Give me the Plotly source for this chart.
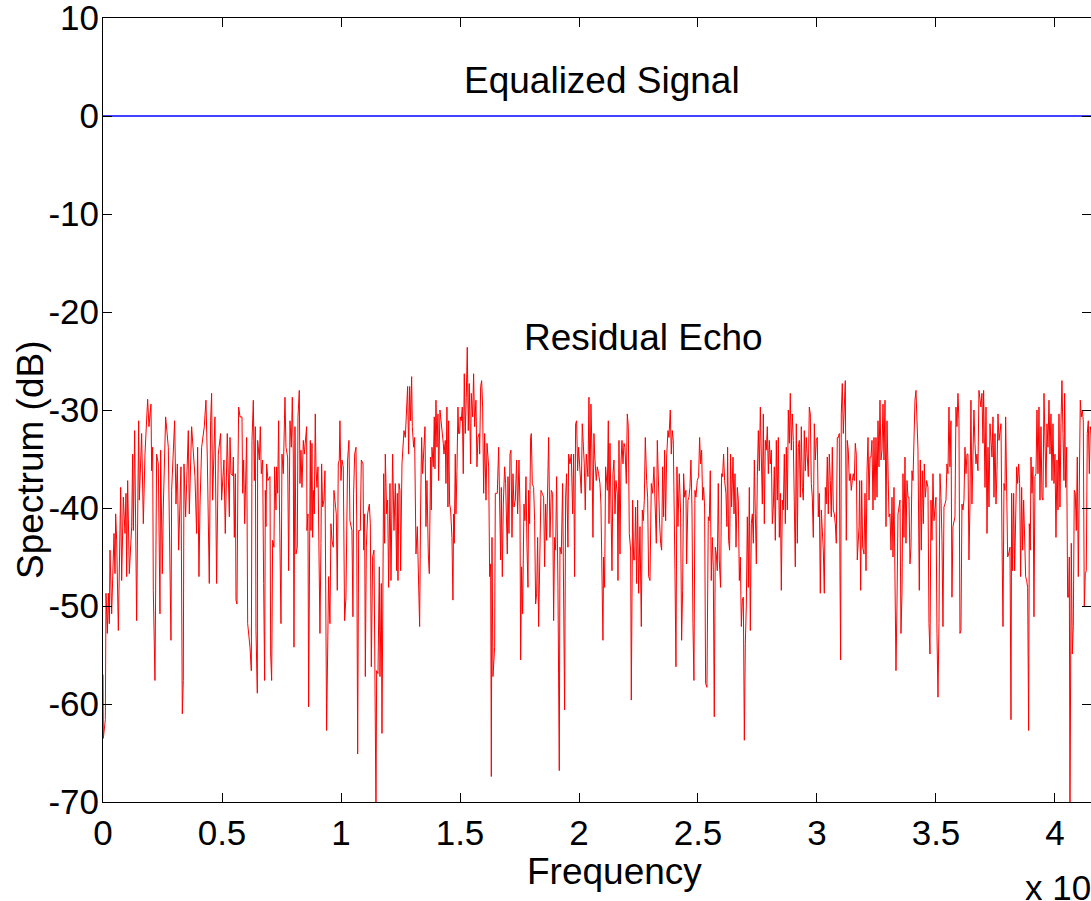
import plotly.graph_objects as go

# Frequencies in units of 1e8 Hz, spectrum in dB
eq_freq = [0.0, 4.16]
eq_db = [0.0, 0.0]

echo_freq_1 = [0.000, 0.0014, 0.0098, 0.0126, 0.0182, 0.0224, 0.0266, 0.0294, 0.0364, 0.0406, 0.0462, 0.0504, 0.0532, 0.0574, 0.0644, 0.0742, 0.0784, 0.0854, 0.0924, 0.0966, 0.0994, 0.1036, 0.1106, 0.1204, 0.1246, 0.1274, 0.1330, 0.1414, 0.1442, 0.1498, 0.1526, 0.1624, 0.1694, 0.1764, 0.1876, 0.1932, 0.2016, 0.2044, 0.2086, 0.2114, 0.2184, 0.2254, 0.2324, 0.2394, 0.2422, 0.2492, 0.2534, 0.2632, 0.2744, 0.2786, 0.2856, 0.2884, 0.3010, 0.3066, 0.3122, 0.3178, 0.3276, 0.3332, 0.3374, 0.3402, 0.3472, 0.3514, 0.3584, 0.3626, 0.3724, 0.3864, 0.3934, 0.3976, 0.4032, 0.4074, 0.4144, 0.4256, 0.4326, 0.4382, 0.4466, 0.4522, 0.4564, 0.4606, 0.4704, 0.4774, 0.4844, 0.4942, 0.4984, 0.5082, 0.5138, 0.5222]
echo_db_1 = [-57.0, -63.5, -61.6, -48.7, -52.8, -48.7, -51.8, -44.3, -50.8, -46.7, -42.6, -46.7, -40.6, -43.3, -52.5, -37.9, -47.4, -38.9, -42.6, -38.5, -47.0, -37.2, -46.7, -41.9, -34.5, -42.3, -32.1, -51.5, -41.9, -31.1, -39.2, -32.4, -41.6, -34.5, -28.9, -31.7, -29.4, -36.2, -33.8, -48.4, -57.6, -34.5, -35.5, -50.8, -34.1, -46.7, -39.9, -30.7, -33.8, -43.6, -53.5, -38.2, -31.1, -39.6, -35.5, -44.3, -35.8, -61.0, -57.6, -35.5, -40.9, -37.5, -32.1, -40.6, -31.7, -36.8, -42.6, -33.8, -47.0, -39.9, -33.8, -31.7, -29.0, -34.8, -47.7, -31.1, -28.3, -39.2, -30.7, -47.7, -34.5, -32.4, -39.2, -35.1, -42.6, -32.4]

echo_freq_2 = [0.5308, 0.5336, 0.5378, 0.5448, 0.5476, 0.5518, 0.5560, 0.5588, 0.5630, 0.5672, 0.5700, 0.5756, 0.5840, 0.5868, 0.5910, 0.5952, 0.5980, 0.6036, 0.6078, 0.6176, 0.6232, 0.6260, 0.6316, 0.6358, 0.6400, 0.6428, 0.6484, 0.6498, 0.6568, 0.6610, 0.6652, 0.6708, 0.6750, 0.6792, 0.6820, 0.6848, 0.6876, 0.6932, 0.7016, 0.7044, 0.7086, 0.7128, 0.7184, 0.7212, 0.7268, 0.7296, 0.7338, 0.7380, 0.7408, 0.7478, 0.7520, 0.7576, 0.7646, 0.7688, 0.7758, 0.7800, 0.7856, 0.7912, 0.7954, 0.7996, 0.8024, 0.8066, 0.8108, 0.8164, 0.8192, 0.8248, 0.8276, 0.8318, 0.8360, 0.8416, 0.8458, 0.8556, 0.8570, 0.8612, 0.8640, 0.8668, 0.8710, 0.8738, 0.8780, 0.8808, 0.8836, 0.8878, 0.8920, 0.8948, 0.8990, 0.9032, 0.9088, 0.9116, 0.9158, 0.9186, 0.9228, 0.9284, 0.9326, 0.9368, 0.9396, 0.9438, 0.9480, 0.9536, 0.9578, 0.9620, 0.9676, 0.9704, 0.9746, 0.9802, 0.9844, 0.9886, 0.9928, 0.9956, 0.9998, 1.0040, 1.0096, 1.0152, 1.0208, 1.0278, 1.0334, 1.0376, 1.0460, 1.0502, 1.0530]
echo_db_2 = [-40.9, -32.8, -36.5, -36.7, -34.8, -43.0, -36.5, -49.4, -49.8, -35.8, -29.7, -30.7, -30.7, -38.5, -35.1, -41.6, -38.5, -32.8, -51.8, -54.2, -56.6, -33.1, -29.0, -37.2, -31.7, -52.5, -58.9, -33.1, -35.1, -31.7, -36.5, -35.1, -47.7, -57.6, -38.2, -41.9, -35.5, -37.2, -36.8, -54.9, -57.6, -43.3, -44.0, -35.8, -40.2, -35.8, -38.5, -31.1, -38.5, -51.8, -34.5, -36.5, -28.7, -33.8, -34.8, -46.4, -31.1, -33.8, -28.7, -34.5, -54.2, -31.7, -44.7, -44.0, -30.7, -28.0, -37.5, -34.1, -37.9, -33.1, -34.5, -31.7, -42.3, -40.6, -60.3, -40.6, -33.1, -42.3, -33.4, -43.0, -38.2, -40.6, -30.4, -35.8, -37.9, -35.8, -44.7, -52.8, -43.6, -35.5, -39.9, -39.2, -36.2, -47.7, -62.7, -54.9, -47.0, -51.8, -41.6, -43.3, -44.0, -38.2, -39.6, -40.6, -48.4, -35.5, -35.1, -31.1, -37.2, -35.1, -35.8, -51.5, -49.1, -35.1, -33.1, -41.3, -42.3, -51.1, -38.5]

echo_freq_3 = [1.0574, 1.0630, 1.0658, 1.0700, 1.0742, 1.0812, 1.0854, 1.0924, 1.0952, 1.0994, 1.1022, 1.1064, 1.1120, 1.1190, 1.1232, 1.1274, 1.1330, 1.1386, 1.1414, 1.1470, 1.1498, 1.1554, 1.1610, 1.1638, 1.1666, 1.1694, 1.1722, 1.1764, 1.1792, 1.1834, 1.1862, 1.1918, 1.1960, 1.2002, 1.2058, 1.2100, 1.2142, 1.2170, 1.2226, 1.2282, 1.2338, 1.2366, 1.2394, 1.2436, 1.2478, 1.2506, 1.2562, 1.2618, 1.2646, 1.2702, 1.2758, 1.2800, 1.2842, 1.2884, 1.2926, 1.2968, 1.2996, 1.3052, 1.3094, 1.3150, 1.3206, 1.3262, 1.3304, 1.3346, 1.3388, 1.3430, 1.3472, 1.3528, 1.3570, 1.3612, 1.3668, 1.3710, 1.3766, 1.3794, 1.3822, 1.3878, 1.3920, 1.3948, 1.3990, 1.4032, 1.4074, 1.4102, 1.4158, 1.4200, 1.4242, 1.4298, 1.4326, 1.4382, 1.4410, 1.4452, 1.4494, 1.4522, 1.4564, 1.4606, 1.4662, 1.4704, 1.4732, 1.4760, 1.4802, 1.4830, 1.4872, 1.4914, 1.4942, 1.4984, 1.5012, 1.5054, 1.5096, 1.5138, 1.5180, 1.5222, 1.5264, 1.5306, 1.5348, 1.5390, 1.5446, 1.5474, 1.5530, 1.5572, 1.5614, 1.5670, 1.5712, 1.5754, 1.5810]
echo_db_3 = [-34.5, -33.8, -40.9, -65.1, -42.3, -42.3, -35.1, -35.5, -44.3, -40.6, -57.2, -44.0, -40.6, -39.6, -41.6, -56.2, -45.0, -44.3, -51.1, -71.0, -56.6, -56.9, -46.0, -57.2, -52.5, -47.7, -63.0, -47.7, -36.5, -43.6, -34.5, -40.6, -39.2, -48.1, -37.5, -47.4, -39.2, -34.5, -42.3, -37.5, -46.4, -38.5, -47.4, -37.5, -38.2, -46.4, -35.5, -33.1, -32.1, -32.8, -30.0, -27.6, -34.5, -27.6, -31.1, -26.6, -31.7, -33.8, -32.8, -44.7, -41.9, -48.4, -52.1, -39.9, -32.8, -36.5, -34.5, -31.7, -41.9, -37.2, -44.7, -46.7, -34.8, -40.2, -33.8, -35.8, -30.7, -36.0, -29.0, -33.8, -30.4, -37.2, -30.0, -31.1, -31.4, -33.4, -34.5, -33.1, -37.5, -29.7, -39.9, -31.1, -39.6, -40.2, -43.0, -49.4, -40.6, -43.6, -34.5, -40.6, -36.2, -29.7, -32.4, -32.4, -30.7, -31.1, -29.7, -36.5, -26.3, -32.4, -28.7, -23.6, -32.1, -27.3, -35.5, -28.3, -30.7, -26.3, -31.7, -29.0, -35.8, -32.8, -32.4]

echo_freq_4 = [1.5826, 1.5868, 1.5910, 1.5952, 1.5994, 1.6036, 1.6092, 1.6134, 1.6204, 1.6246, 1.6288, 1.6316, 1.6344, 1.6386, 1.6456, 1.6484, 1.6568, 1.6624, 1.6666, 1.6708, 1.6736, 1.6778, 1.6820, 1.6876, 1.6918, 1.6988, 1.7016, 1.7058, 1.7100, 1.7142, 1.7184, 1.7226, 1.7268, 1.7324, 1.7380, 1.7422, 1.7478, 1.7520, 1.7548, 1.7590, 1.7632, 1.7688, 1.7730, 1.7772, 1.7814, 1.7856, 1.7884, 1.7926, 1.7968, 1.7996, 1.8038, 1.8094, 1.8136, 1.8178, 1.8220, 1.8262, 1.8304, 1.8360, 1.8402, 1.8458, 1.8514, 1.8556, 1.8598, 1.8640, 1.8682, 1.8724, 1.8780, 1.8836, 1.8892, 1.8934, 1.8976, 1.9018, 1.9060, 1.9116, 1.9172, 1.9200, 1.9256, 1.9312, 1.9340, 1.9396, 1.9438, 1.9480, 1.9536, 1.9564, 1.9620, 1.9676, 1.9732, 1.9774, 1.9816, 1.9858, 1.9900, 1.9942, 1.9984, 2.0040, 2.0096, 2.0138, 2.0180, 2.0222, 2.0264, 2.0306, 2.0376, 2.0418, 2.0460, 2.0502, 2.0544, 2.0586, 2.0628, 2.0656, 2.0726, 2.0768, 2.0824, 2.0880, 2.0922, 2.0964, 2.1006, 2.1034, 2.1076, 2.1118]
echo_db_4 = [-34.5, -27.6, -27.0, -29.7, -38.5, -32.4, -39.2, -33.4, -35.8, -47.0, -45.7, -67.4, -43.0, -57.2, -54.2, -38.5, -38.5, -33.8, -43.0, -45.3, -37.9, -47.0, -39.6, -35.8, -37.5, -44.7, -36.8, -42.6, -34.5, -34.1, -43.0, -36.5, -39.9, -39.2, -35.1, -40.6, -35.1, -39.9, -55.5, -46.0, -50.8, -39.6, -41.3, -36.8, -44.0, -48.1, -38.2, -41.6, -32.8, -32.4, -37.5, -37.9, -41.3, -49.8, -48.7, -43.0, -52.1, -43.3, -38.2, -38.5, -38.9, -46.0, -39.6, -43.3, -39.2, -32.8, -43.0, -38.2, -38.5, -51.5, -43.0, -44.3, -36.8, -48.1, -66.8, -44.0, -44.7, -37.5, -45.0, -60.6, -38.9, -36.5, -44.0, -34.5, -35.5, -34.5, -40.6, -34.5, -47.0, -31.4, -31.1, -36.2, -33.8, -36.8, -38.5, -31.4, -33.1, -35.5, -40.2, -34.5, -36.8, -28.7, -38.2, -29.4, -34.1, -43.0, -32.4, -34.5, -37.2, -35.8, -36.5, -37.5, -39.6, -48.7, -53.5, -45.0, -48.1, -35.8]

echo_freq_5 = [2.1134, 2.1190, 2.1232, 2.1260, 2.1302, 2.1344, 2.1386, 2.1428, 2.1470, 2.1512, 2.1554, 2.1610, 2.1638, 2.1680, 2.1722, 2.1764, 2.1806, 2.1848, 2.1890, 2.1932, 2.1988, 2.2030, 2.2072, 2.2114, 2.2170, 2.2198, 2.2226, 2.2254, 2.2296, 2.2338, 2.2380, 2.2422, 2.2464, 2.2506, 2.2562, 2.2618, 2.2660, 2.2702, 2.2744, 2.2786, 2.2842, 2.2884, 2.2926, 2.2982, 2.3038, 2.3094, 2.3150, 2.3206, 2.3248, 2.3290, 2.3346, 2.3388, 2.3430, 2.3472, 2.3514, 2.3556, 2.3598, 2.3640, 2.3682, 2.3738, 2.3780, 2.3836, 2.3878, 2.3920, 2.3962, 2.3990, 2.4032, 2.4074, 2.4116, 2.4158, 2.4214, 2.4270, 2.4312, 2.4354, 2.4396, 2.4438, 2.4494, 2.4522, 2.4578, 2.4620, 2.4662, 2.4704, 2.4746, 2.4788, 2.4830, 2.4872, 2.4914, 2.4970, 2.5026, 2.5068, 2.5110, 2.5152, 2.5194, 2.5236, 2.5278, 2.5320, 2.5376, 2.5432, 2.5474, 2.5516, 2.5558, 2.5600, 2.5642, 2.5684, 2.5726, 2.5768, 2.5810, 2.5852, 2.5894, 2.5950, 2.5992, 2.6034, 2.6076, 2.6118, 2.6174, 2.6216, 2.6244, 2.6286, 2.6328, 2.6370, 2.6412]
echo_db_5 = [-36.5, -38.2, -31.1, -41.6, -33.4, -40.6, -46.4, -36.5, -35.1, -40.6, -37.2, -38.5, -47.4, -33.1, -44.7, -35.5, -33.1, -35.5, -33.4, -33.8, -37.5, -30.4, -31.7, -42.6, -44.3, -59.6, -49.4, -39.2, -45.3, -45.3, -39.9, -47.7, -39.2, -48.7, -41.9, -52.1, -40.2, -41.3, -39.2, -32.8, -37.2, -38.9, -47.0, -47.4, -37.5, -38.5, -35.8, -41.3, -43.6, -33.1, -39.9, -41.6, -43.6, -44.3, -35.8, -40.9, -34.1, -41.3, -34.8, -32.1, -32.8, -30.0, -34.5, -32.1, -33.1, -42.3, -46.4, -56.2, -35.8, -41.9, -36.5, -40.6, -53.5, -48.4, -36.5, -38.9, -38.2, -45.7, -39.2, -38.9, -37.9, -35.1, -39.9, -51.8, -57.6, -38.2, -38.9, -37.2, -36.8, -32.8, -35.5, -34.1, -39.2, -37.9, -39.9, -57.9, -58.3, -40.9, -41.3, -36.2, -47.4, -43.0, -46.0, -61.3, -44.0, -44.7, -46.4, -37.5, -45.3, -48.1, -36.5, -36.8, -34.5, -37.2, -38.5, -41.9, -33.8, -43.3, -44.3, -34.5, -39.9]

echo_freq_6 = [2.6471, 2.6513, 2.6555, 2.6597, 2.6653, 2.6695, 2.6737, 2.6779, 2.6821, 2.6863, 2.6905, 2.6947, 2.6989, 2.7031, 2.7073, 2.7115, 2.7157, 2.7199, 2.7241, 2.7283, 2.7325, 2.7367, 2.7409, 2.7451, 2.7493, 2.7535, 2.7577, 2.7619, 2.7661, 2.7703, 2.7745, 2.7787, 2.7829, 2.7871, 2.7913, 2.7955, 2.7997, 2.8039, 2.8081, 2.8123, 2.8165, 2.8207, 2.8249, 2.8291, 2.8333, 2.8375, 2.8417, 2.8459, 2.8501, 2.8543, 2.8585, 2.8627, 2.8669, 2.8711, 2.8753, 2.8795, 2.8837, 2.8879, 2.8921, 2.8963, 2.9005, 2.9047, 2.9089, 2.9131, 2.9173, 2.9215, 2.9257, 2.9299, 2.9341, 2.9383, 2.9425, 2.9467, 2.9509, 2.9551, 2.9593, 2.9635, 2.9677, 2.9719, 2.9761, 2.9803, 2.9845, 2.9887, 2.9929, 2.9971, 3.0013, 3.0055, 3.0097, 3.0139, 3.0181, 3.0223, 3.0265, 3.0307, 3.0349, 3.0391, 3.0433, 3.0475, 3.0517, 3.0559, 3.0601, 3.0643, 3.0685, 3.0727, 3.0769, 3.0811, 3.0853, 3.0895, 3.0937, 3.0965, 3.0993, 3.1021, 3.1063, 3.1105, 3.1147, 3.1189, 3.1231, 3.1273, 3.1315, 3.1357, 3.1399, 3.1441, 3.1483, 3.1525, 3.1567, 3.1609, 3.1651, 3.1693]
echo_db_6 = [-34.8, -40.6, -36.5, -44.0, -37.9, -39.2, -47.4, -45.0, -52.1, -49.4, -49.1, -63.7, -53.8, -49.8, -40.9, -48.1, -37.9, -52.5, -41.6, -40.6, -43.6, -35.1, -40.6, -45.7, -36.8, -32.1, -36.2, -29.7, -34.8, -39.6, -30.4, -41.6, -33.1, -34.1, -31.7, -36.5, -33.1, -35.5, -34.1, -41.6, -39.9, -35.8, -43.3, -33.1, -39.2, -32.8, -43.0, -38.5, -48.4, -39.2, -40.2, -34.5, -41.6, -33.8, -40.2, -30.0, -33.4, -28.3, -34.1, -30.4, -33.1, -38.5, -46.0, -31.4, -43.6, -33.8, -33.1, -38.9, -31.7, -37.9, -39.2, -32.1, -36.2, -32.8, -35.8, -36.8, -29.7, -30.4, -37.5, -38.9, -43.0, -31.4, -35.1, -33.1, -32.8, -40.9, -38.5, -48.7, -40.2, -42.6, -44.3, -48.7, -37.9, -39.6, -34.8, -40.6, -34.5, -37.2, -40.9, -33.8, -40.2, -40.6, -41.6, -43.6, -32.8, -32.8, -32.4, -46.4, -55.5, -30.4, -27.3, -32.4, -29.0, -27.0, -43.3, -33.1, -34.1, -37.2, -36.5, -38.2, -37.2, -36.5, -37.2, -33.4, -34.5, -45.3]

echo_freq_7 = [3.1765, 3.1793, 3.1835, 3.1877, 3.1919, 3.1975, 3.2017, 3.2059, 3.2101, 3.2143, 3.2185, 3.2227, 3.2269, 3.2311, 3.2353, 3.2395, 3.2437, 3.2479, 3.2521, 3.2563, 3.2605, 3.2647, 3.2689, 3.2731, 3.2773, 3.2815, 3.2857, 3.2899, 3.2941, 3.2983, 3.3025, 3.3067, 3.3109, 3.3151, 3.3193, 3.3235, 3.3277, 3.3319, 3.3361, 3.3403, 3.3445, 3.3487, 3.3529, 3.3571, 3.3613, 3.3655, 3.3697, 3.3739, 3.3781, 3.3823, 3.3865, 3.3907, 3.3949, 3.3991, 3.4033, 3.4075, 3.4117, 3.4159, 3.4201, 3.4243, 3.4299, 3.4341, 3.4383, 3.4425, 3.4467, 3.4509, 3.4551, 3.4607, 3.4663, 3.4705, 3.4747, 3.4789, 3.4831, 3.4873, 3.4915, 3.4957, 3.4999, 3.5041, 3.5083, 3.5125, 3.5167, 3.5209, 3.5251, 3.5293, 3.5335, 3.5377, 3.5419, 3.5461, 3.5503, 3.5545, 3.5587, 3.5629, 3.5671, 3.5713, 3.5755, 3.5797, 3.5839, 3.5881, 3.5923, 3.5965, 3.6007, 3.6049, 3.6091, 3.6133, 3.6175, 3.6217, 3.6259, 3.6301, 3.6343, 3.6385, 3.6427, 3.6469, 3.6511, 3.6553, 3.6595, 3.6637, 3.6679, 3.6721, 3.6763, 3.6805, 3.6847, 3.6889, 3.6931, 3.6973, 3.7001]
echo_db_7 = [-41.9, -37.2, -48.4, -37.2, -44.0, -44.7, -38.5, -46.4, -36.2, -32.8, -39.2, -34.8, -34.8, -33.1, -40.2, -32.8, -39.2, -32.8, -38.9, -31.1, -35.8, -29.0, -35.1, -34.1, -29.4, -35.1, -29.0, -41.9, -31.1, -36.2, -40.9, -40.6, -44.3, -38.9, -45.0, -37.9, -45.0, -56.6, -49.8, -40.6, -39.9, -39.2, -52.8, -48.7, -36.5, -43.0, -34.8, -43.6, -37.2, -38.9, -38.9, -45.7, -44.0, -36.2, -37.2, -30.7, -29.0, -28.0, -32.4, -34.1, -48.4, -35.1, -44.3, -36.2, -41.6, -35.5, -38.9, -37.2, -37.9, -51.8, -54.9, -39.2, -43.3, -36.5, -41.3, -39.6, -38.9, -52.8, -59.3, -51.8, -36.5, -38.9, -43.3, -52.1, -39.9, -39.6, -39.2, -35.5, -36.5, -29.7, -35.8, -31.1, -49.1, -41.9, -41.3, -40.9, -29.7, -31.7, -28.3, -31.1, -52.8, -52.5, -39.6, -40.2, -39.2, -33.8, -36.5, -34.5, -34.5, -45.3, -39.6, -29.0, -39.6, -33.1, -30.0, -33.4, -35.5, -34.5, -36.2, -28.0, -28.7, -29.7, -28.3, -33.4, -28.0]

echo_freq_8 = [3.7059, 3.7101, 3.7143, 3.7185, 3.7227, 3.7269, 3.7311, 3.7353, 3.7395, 3.7437, 3.7479, 3.7521, 3.7563, 3.7605, 3.7647, 3.7689, 3.7731, 3.7773, 3.7815, 3.7857, 3.7899, 3.7927, 3.7969, 3.8011, 3.8053, 3.8109, 3.8151, 3.8179, 3.8221, 3.8263, 3.8305, 3.8347, 3.8389, 3.8431, 3.8473, 3.8515, 3.8557, 3.8599, 3.8641, 3.8683, 3.8725, 3.8767, 3.8809, 3.8851, 3.8893, 3.8921, 3.8963, 3.8991, 3.9033, 3.9075, 3.9117, 3.9159, 3.9201, 3.9243, 3.9285, 3.9327, 3.9369, 3.9411, 3.9453, 3.9495, 3.9537, 3.9579, 3.9621, 3.9663, 3.9705, 3.9747, 3.9789, 3.9831, 3.9873, 3.9915, 3.9957, 3.9999, 4.0041, 4.0083, 4.0125, 4.0167, 4.0209, 4.0251, 4.0293, 4.0335, 4.0377, 4.0405, 4.0447, 4.0489, 4.0531, 4.0573, 4.0601, 4.0629, 4.0657, 4.0685, 4.0727, 4.0769, 4.0811, 4.0853, 4.0895, 4.0937, 4.0979, 4.1021, 4.1063, 4.1105, 4.1147, 4.1189, 4.1231, 4.1273, 4.1315, 4.1357, 4.1399, 4.1441, 4.1483, 4.1511, 4.1560]
echo_db_8 = [-37.9, -29.7, -42.6, -33.8, -39.9, -31.4, -33.4, -34.8, -30.7, -38.9, -32.4, -39.6, -36.2, -30.4, -33.1, -32.4, -31.4, -43.3, -52.1, -37.5, -38.2, -30.7, -37.2, -45.0, -44.7, -44.0, -61.6, -38.5, -46.4, -38.5, -46.4, -40.2, -35.8, -37.5, -35.5, -37.5, -47.0, -37.9, -44.3, -39.2, -43.3, -47.0, -47.4, -48.1, -62.7, -41.6, -44.3, -34.8, -38.5, -35.8, -51.1, -36.8, -36.5, -30.0, -36.5, -29.7, -39.2, -31.7, -38.9, -39.2, -28.3, -33.1, -37.9, -31.4, -33.8, -29.0, -34.5, -30.4, -37.2, -31.4, -37.5, -34.5, -43.0, -35.1, -40.2, -30.4, -39.9, -31.4, -27.0, -32.4, -37.2, -28.3, -37.9, -33.8, -49.1, -49.1, -45.0, -71.0, -59.6, -43.6, -54.9, -52.1, -38.2, -38.5, -42.3, -34.8, -47.0, -33.1, -29.0, -30.7, -30.0, -31.1, -50.1, -46.7, -46.4, -32.4, -31.1, -36.5, -31.7, -32.1, -33.0]

x_tickvals = [0, 0.5, 1, 1.5, 2, 2.5, 3, 3.5, 4]
x_ticktext = ["0", "0.5", "1", "1.5", "2", "2.5", "3", "3.5", "4"]
y_tickvals = [-70, -60, -50, -40, -30, -20, -10, 0, 10]
y_ticktext = ["-70", "-60", "-50", "-40", "-30", "-20", "-10", "0", "10"]

segments_f = [echo_freq_1, echo_freq_2, echo_freq_3, echo_freq_4, echo_freq_5, echo_freq_6, echo_freq_7, echo_freq_8]
segments_d = [echo_db_1, echo_db_2, echo_db_3, echo_db_4, echo_db_5, echo_db_6, echo_db_7, echo_db_8]
echo_freq, echo_db = [], []
for i, (fs, ds) in enumerate(zip(segments_f, segments_d)):
    assert len(fs) == len(ds), f"segment {i+1}: {len(fs)} vs {len(ds)}"
    echo_freq += fs
    echo_db += ds

FONT = "Arial, Liberation Sans, sans-serif"
X_MAX = 4.1513

fig = go.Figure()
fig.add_trace(go.Scatter(x=eq_freq, y=eq_db, mode="lines",
                         line=dict(color="#0000FF", width=1.6), hoverinfo="skip"))
fig.add_trace(go.Scatter(x=echo_freq, y=echo_db, mode="lines",
                         line=dict(color="#FF0000", width=1), hoverinfo="skip"))
# helper trace so the right-hand tick axis is drawn
fig.add_trace(go.Scatter(x=eq_freq, y=eq_db, mode="lines", yaxis="y2",
                         line=dict(color="rgba(0,0,0,0)", width=0), hoverinfo="skip"))

tick_font = dict(family=FONT, size=35, color="black")
label_font = dict(family=FONT, size=37, color="black")

fig.update_layout(
    width=1091, height=901,
    margin=dict(l=103, r=0, t=18, b=99),
    paper_bgcolor="white", plot_bgcolor="white",
    showlegend=False,
    xaxis=dict(range=[0, X_MAX], tickvals=x_tickvals, ticktext=x_ticktext,
               ticks="inside", ticklen=9, tickwidth=1, tickcolor="black",
               showline=True, linecolor="black", linewidth=1, mirror="ticks",
               showgrid=False, zeroline=False, tickfont=tick_font,
               automargin=False, ticklabeloverflow="allow"),
    yaxis=dict(range=[-70, 10], tickvals=y_tickvals, ticktext=y_ticktext,
               ticks="inside", ticklen=9, tickwidth=1, tickcolor="black",
               showline=True, linecolor="black", linewidth=1, mirror=False,
               showgrid=False, zeroline=False, tickfont=tick_font,
               automargin=False, ticklabeloverflow="allow", ticklabelstandoff=-4),
    yaxis2=dict(range=[-70, 10], tickvals=y_tickvals, overlaying="y", side="right",
                ticks="inside", ticklen=9, tickwidth=1, tickcolor="black",
                showline=False, showticklabels=False, showgrid=False, zeroline=False,
                automargin=False),
    annotations=[
        dict(text="Equalized Signal", x=2.097, y=3.6, xref="x", yref="y",
             showarrow=False, font=label_font, xanchor="center", yanchor="middle"),
        dict(text="Residual Echo", x=2.269, y=-22.6, xref="x", yref="y",
             showarrow=False, font=label_font, xanchor="center", yanchor="middle"),
        dict(text="Frequency", x=(614 - 103) / 988, y=(802 - 872) / 784,
             xref="paper", yref="paper", showarrow=False, font=label_font,
             xanchor="center", yanchor="middle"),
        dict(text="Spectrum (dB)", x=(31 - 103) / 988, y=(802 - 460) / 784,
             xref="paper", yref="paper", showarrow=False, font=label_font,
             textangle=-90, xanchor="center", yanchor="middle"),
        dict(text="x 10<sup>8</sup>", x=(1023 - 103) / 988, y=(802 - 885) / 784,
             xref="paper", yref="paper", showarrow=False, font=tick_font,
             xanchor="left", yanchor="middle"),
    ],
)

fig.write_html("out.html")
